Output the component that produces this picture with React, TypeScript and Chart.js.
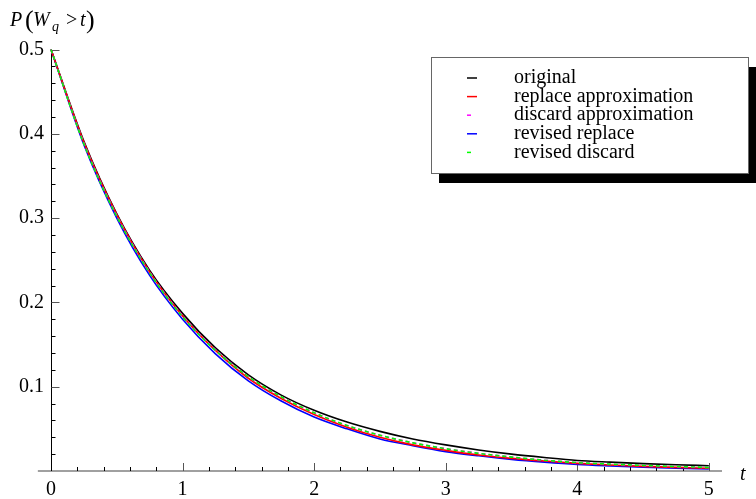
import React, { useEffect, useRef } from "react";
import { Chart, registerables } from "chart.js";

Chart.register(...registerables);

const T = [0, 0.25, 0.5, 0.75, 1, 1.25, 1.5, 1.75, 2, 2.25, 2.5, 2.75, 3, 3.25, 3.5, 3.75, 4, 4.25, 4.5, 4.75, 5];

const ORIGINAL = [0.5, 0.391, 0.305, 0.238, 0.187, 0.146, 0.114, 0.09, 0.072, 0.058, 0.047, 0.038, 0.031, 0.025, 0.02, 0.016, 0.0125, 0.0105, 0.0088, 0.0074, 0.0063];
const REPLACE_APPROX = [0.5, 0.39, 0.304, 0.236, 0.184, 0.143, 0.11, 0.086, 0.067, 0.052, 0.04, 0.031, 0.0245, 0.019, 0.015, 0.0118, 0.0091, 0.0071, 0.0055, 0.0043, 0.0033];
const DISCARD_APPROX = [0.5, 0.389, 0.303, 0.236, 0.184, 0.144, 0.112, 0.088, 0.069, 0.054, 0.0425, 0.0335, 0.0265, 0.021, 0.0165, 0.0128, 0.0099, 0.008, 0.0065, 0.0052, 0.0041];
const REVISED_REPLACE = [0.5, 0.387, 0.3, 0.232, 0.18, 0.139, 0.107, 0.083, 0.064, 0.05, 0.038, 0.03, 0.023, 0.018, 0.0138, 0.0105, 0.0078, 0.006, 0.0045, 0.0033, 0.0024];
const REVISED_DISCARD = [0.5, 0.388, 0.302, 0.235, 0.183, 0.143, 0.112, 0.088, 0.069, 0.054, 0.0424, 0.0334, 0.0264, 0.0209, 0.0165, 0.0128, 0.0099, 0.0081, 0.0066, 0.0053, 0.0042];

const SERIES_LABELS = ["original", "replace approximation", "discard approximation", "revised replace", "revised discard"];
const X_TICKS = [0, 1, 2, 3, 4, 5];
const Y_TICKS = [0, 0.1, 0.2, 0.3, 0.4, 0.5];

const FONT = "'Liberation Serif', 'Times New Roman', serif";

const axesPlugin = {
  id: "mmaAxes",
  beforeDatasetsDraw(chart: any) {
    const ctx = chart.ctx;
    const xs = chart.scales.x;
    const ys = chart.scales.y;
    const x0 = Math.round(xs.getPixelForValue(0)) + 0.5;
    const y0 = ys.getPixelForValue(0);
    ctx.save();
    ctx.strokeStyle = "#808080";
    ctx.lineWidth = 1.6;
    ctx.beginPath();
    ctx.moveTo(xs.getPixelForValue(-0.1), y0);
    ctx.lineTo(xs.getPixelForValue(5.1), y0);
    ctx.stroke();
    for (let i = 0; i <= 25; i++) {
      const v = i * 0.2;
      const px = Math.round(xs.getPixelForValue(v)) + 0.5;
      const major = i % 5 === 0;
      ctx.strokeStyle = major ? "#555" : "#000";
      ctx.lineWidth = 1;
      ctx.beginPath();
      ctx.moveTo(px, y0);
      ctx.lineTo(px, y0 - (major ? 8 : 4));
      ctx.stroke();
    }
    ctx.strokeStyle = "#000";
    ctx.lineWidth = 1;
    ctx.beginPath();
    ctx.moveTo(x0, ys.getPixelForValue(0.5));
    ctx.lineTo(x0, y0);
    ctx.stroke();
    for (let i = 1; i <= 25; i++) {
      const v = i * 0.02;
      const py = Math.round(ys.getPixelForValue(v)) + 0.5;
      const major = i % 5 === 0;
      ctx.strokeStyle = major ? "#555" : "#000";
      ctx.beginPath();
      ctx.moveTo(x0, py);
      ctx.lineTo(x0 + (major ? 8 : 4), py);
      ctx.stroke();
    }
    ctx.restore();
  },
  afterDraw(chart: any) {
    const ctx = chart.ctx;
    ctx.save();
    ctx.fillStyle = "#000";
    ctx.textBaseline = "alphabetic";
    // y axis title P(W_q > t)
    ctx.font = `italic 20px ${FONT}`;
    ctx.fillText("P", 10, 26);
    ctx.font = `26px ${FONT}`;
    ctx.fillText("(", 25, 28);
    ctx.font = `italic 20px ${FONT}`;
    ctx.fillText("W", 33, 26);
    ctx.font = `italic 14px ${FONT}`;
    ctx.fillText("q", 52, 31);
    ctx.font = `20px ${FONT}`;
    ctx.fillText(">", 66, 26);
    ctx.font = `italic 20px ${FONT}`;
    ctx.fillText("t", 80, 26);
    ctx.font = `26px ${FONT}`;
    ctx.fillText(")", 86, 28);
    // x axis title
    ctx.font = `italic 20px ${FONT}`;
    ctx.fillText("t", 740, 480);

    // legend
    const bx = 431, by = 57, bw = 317, bh = 116;
    ctx.fillStyle = "#000";
    ctx.fillRect(bx + 8, by + 10, bw, bh);
    ctx.fillStyle = "#fff";
    ctx.fillRect(bx, by, bw, bh);
    ctx.strokeStyle = "#666";
    ctx.lineWidth = 1;
    ctx.strokeRect(bx + 0.5, by + 0.5, bw, bh);
    const ds = chart.data.datasets;
    ctx.font = `20px ${FONT}`;
    for (let i = 0; i < ds.length; i++) {
      const yy = 78 + i * 18.6;
      const dashed = Array.isArray(ds[i].borderDash) && ds[i].borderDash.length > 0;
      ctx.strokeStyle = ds[i].borderColor;
      ctx.lineWidth = 1.5;
      ctx.beginPath();
      ctx.moveTo(467, yy);
      ctx.lineTo(dashed ? 471 : 477, yy);
      ctx.stroke();
      ctx.fillStyle = "#000";
      ctx.textBaseline = "middle";
      ctx.fillText(ds[i].label, 514, yy);
    }
    ctx.restore();
  },
};

export default function App() {
  const ref = useRef<HTMLCanvasElement | null>(null);
  useEffect(() => {
    if (!ref.current) return;
    const mk = (label: string, data: number[], color: string, dash: number[], order: number) => ({
      label,
      data: T.map((t, i) => ({ x: t, y: data[i] })),
      borderColor: color,
      borderWidth: 1.6,
      borderDash: dash,
      pointRadius: 0,
      fill: false,
      cubicInterpolationMode: "monotone" as const,
      clip: false as const,
      order,
    });
    const chart = new Chart(ref.current, {
      type: "line",
      data: {
        datasets: [
          mk(SERIES_LABELS[0], ORIGINAL, "#000000", [], 5),
          mk(SERIES_LABELS[1], REPLACE_APPROX, "#ff0000", [], 3),
          mk(SERIES_LABELS[2], DISCARD_APPROX, "#ff00ff", [4, 3], 2),
          mk(SERIES_LABELS[3], REVISED_REPLACE, "#0000ff", [], 4),
          mk(SERIES_LABELS[4], REVISED_DISCARD, "#00ff00", [4, 3], 1),
        ],
      },
      options: {
        animation: false,
        responsive: false,
        layout: { padding: { left: 0, top: 49.5, right: 34, bottom: 0 } },
        plugins: { legend: { display: false }, tooltip: { enabled: false } },
        scales: {
          x: {
            type: "linear",
            min: 0,
            max: 5.1,
            position: "bottom",
            grid: { display: false, drawTicks: false },
            border: { display: false },
            afterBuildTicks: (s: any) => {
              s.ticks = X_TICKS.map((v) => ({ value: v }));
            },
            afterFit: (s: any) => {
              s.height = 28;
            },
            ticks: {
              color: "#000",
              font: { family: FONT, size: 20 },
              padding: 7,
              maxRotation: 0,
              autoSkip: false,
              callback: (v: any) => String(v),
            },
          },
          y: {
            type: "linear",
            min: 0,
            max: 0.5,
            position: "left",
            grid: { display: false, drawTicks: false },
            border: { display: false },
            afterBuildTicks: (s: any) => {
              s.ticks = Y_TICKS.map((v) => ({ value: v }));
            },
            afterFit: (s: any) => {
              s.width = 51;
            },
            ticks: {
              color: "#000",
              font: { family: FONT, size: 20 },
              padding: 7,
              callback: (v: any) => (v === 0 ? "" : Number(v).toFixed(1)),
            },
          },
        },
      },
      plugins: [axesPlugin],
    });
    return () => chart.destroy();
  }, []);
  return (
    <div style={{ position: "absolute", left: 0, top: 0, width: 756, height: 499, background: "#fff" }}>
      <canvas ref={ref} width={756} height={499} style={{ width: 756, height: 499, display: "block" }} />
    </div>
  );
}
